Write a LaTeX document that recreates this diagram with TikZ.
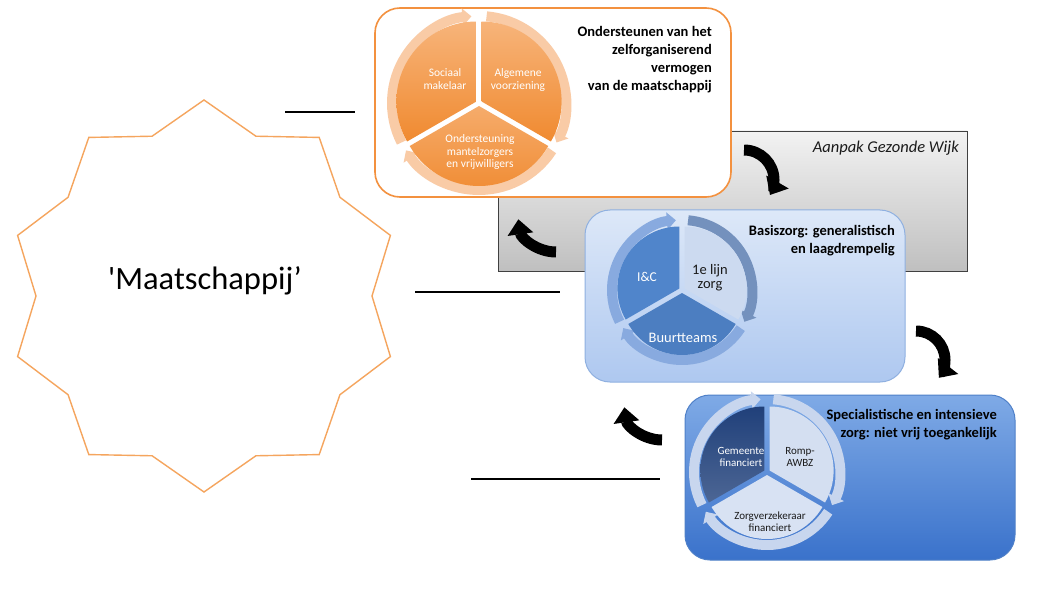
\documentclass[tikz,border=0pt]{standalone}
\usepackage{fontspec}
\setmainfont{Carlito}
\usetikzlibrary{arrows.meta}
\begin{document}
\begin{tikzpicture}[x=1pt,y=-1pt,
  seglabel/.style={align=center,inner sep=0pt,font=\fontsize{11.5}{12.5}\selectfont},
  boxtitle/.style={anchor=north east,align=right,inner sep=0pt,font=\bfseries\fontsize{14.5}{18}\selectfont},
  panel/.style={rounded corners=25pt,line width=1pt},
  ring/.style={line width=10pt,-{Triangle[width=17pt,length=9pt]}},
  turn/.style={line width=11pt,black,-{Triangle[width=25pt,length=15pt]}},
  rule/.style={line width=2.6pt,black}]
\definecolor{starline}{HTML}{F5A55E}\definecolor{orline}{HTML}{F3913F}
\definecolor{ortop}{HTML}{F7B47A}\definecolor{orbot}{HTML}{F08A30}
\definecolor{orring}{HTML}{F9CBA6}
\definecolor{midtop}{HTML}{DDE8F8}\definecolor{midbot}{HTML}{AEC8F0}
\definecolor{midline}{HTML}{8FB0E0}\definecolor{midseg}{HTML}{5085CB}
\definecolor{midpale}{HTML}{CCDAF0}\definecolor{midring}{HTML}{88AADF}
\definecolor{lowtop}{HTML}{7FAAE6}\definecolor{lowbot}{HTML}{3A72CB}
\definecolor{lowline}{HTML}{4F80C8}\definecolor{lowdark}{HTML}{20407A}
\definecolor{lowpale}{HTML}{D4DFF1}\definecolor{lowring}{HTML}{C8D6EE}
\definecolor{ink}{HTML}{1A1A1A}
\useasboundingbox (0,0) rectangle (1061,607);
\fill[white] (0,0) rectangle (1061,607);
% left: the society star
\draw[starline,line width=1.4pt,shift={(204,296)}] (0:168)
  \foreach \a in {18,54,...,342} { -- (\a:196) -- (\a+18:168) } -- cycle;
\node[font=\fontsize{32.5}{36}\selectfont,inner sep=0pt] (maatlabel) at (205,281) {\textquotesingle Maatschappij'};
% separator rules
\coordinate (ra) at (285,112); \coordinate (rb) at (355,112);
\coordinate (rc) at (415,292); \coordinate (rd) at (560,292);
\coordinate (re) at (471,479); \coordinate (rf) at (660,479);
\draw[rule] (ra) -- (rb);
\draw[rule] (rc) -- (rd);
\draw[rule] (re) -- (rf);
% grey frame
\node[draw=black!75,line width=.8pt,top color=black!5,bottom color=black!25,minimum width=469pt,minimum height=140pt,inner sep=0pt] (wijk) at (732.5,201) {};
\node[anchor=base east,inner sep=0pt,font=\itshape\fontsize{16.5}{18}\selectfont,text=ink] (wijklabel) at (959,153) {Aanpak Gezonde Wijk};
% orange panel
\node[panel,draw=orline,line width=1.6pt,fill=white,minimum width=356pt,minimum height=189pt] (zelf) at (553,102.5) {};
\draw[ring,orring] (479,103) ++(-207:87) arc[start angle=-207,end angle=-95,radius=87];
\draw[ring,orring] (479,103) ++(-85:87) arc[start angle=-85,end angle=27,radius=87];
\draw[ring,orring] (479,103) ++(33:87) arc[start angle=33,end angle=147,radius=87];
\path[top color=ortop,bottom color=orbot] (476.4,101.5) -- ++(-90:80) arc[start angle=-90,end angle=-210,radius=80] -- cycle;
\path[top color=ortop,bottom color=orbot] (481.6,101.5) -- ++(30:80) arc[start angle=30,end angle=-90,radius=80] -- cycle;
\path[top color=ortop!80!orbot,bottom color=orbot] (479,106) -- ++(150:80) arc[start angle=150,end angle=30,radius=80] -- cycle;
\node[seglabel,text=white] (sociaal) at (445,79) {Sociaal\\makelaar};
\node[seglabel,text=white] (algemeen) at (518,80) {Algemene\\voorziening};
\node[seglabel,text=white] (mantel) at (480,152) {Ondersteuning\\mantelzorgers\\en vrijwilligers};
\node[boxtitle] (zelflabel) at (712,26) {Ondersteunen van het\\zelforganiserend\\vermogen\\van de maatschappij};
% basic care panel
\node[panel,draw=midline,top color=midtop,bottom color=midbot,minimum width=320pt,minimum height=172pt] (basis) at (745,296) {};
\draw[ring,midring] (682,290) ++(-207:70) arc[start angle=-207,end angle=-95,radius=70];
\draw[ring,midring!85!black] (682,290) ++(-85:70) arc[start angle=-85,end angle=27,radius=70];
\draw[ring,midring] (682,290) ++(33:70) arc[start angle=33,end angle=147,radius=70];
\fill[midseg] (679.4,288.5) -- ++(-90:62) arc[start angle=-90,end angle=-210,radius=62] -- cycle;
\fill[midpale] (684.6,288.5) -- ++(30:62) arc[start angle=30,end angle=-90,radius=62] -- cycle;
\fill[midseg!95!black] (682,293) -- ++(150:62) arc[start angle=150,end angle=30,radius=62] -- cycle;
\node[seglabel,text=white,font=\fontsize{13.5}{15}\selectfont] (ic) at (647,277) {I\&C};
\node[seglabel,text=ink,font=\fontsize{14.5}{14}\selectfont] (eerste) at (710,278) {1e lijn\\zorg};
\node[seglabel,text=white,font=\fontsize{14.5}{15}\selectfont] (buurt) at (683,338) {Buurtteams};
\node[boxtitle] (basislabel) at (895,225) {Basiszorg: generalistisch\\en laagdrempelig};
% specialist panel
\node[panel,draw=lowline,top color=lowtop,bottom color=lowbot,minimum width=330pt,minimum height=165pt] (spec) at (850,477.5) {};
\draw[ring,lowring] (767,472) ++(-207:73) arc[start angle=-207,end angle=-95,radius=73];
\draw[ring,lowring] (767,472) ++(-85:73) arc[start angle=-85,end angle=27,radius=73];
\draw[ring,lowring] (767,472) ++(33:73) arc[start angle=33,end angle=147,radius=73];
\path[top color=lowdark,bottom color=lowdark!80!white] (764.4,470.5) -- ++(-90:64) arc[start angle=-90,end angle=-210,radius=64] -- cycle;
\fill[lowpale] (769.6,470.5) -- ++(30:64) arc[start angle=30,end angle=-90,radius=64] -- cycle;
\fill[lowpale!90!white] (767,475) -- ++(150:64) arc[start angle=150,end angle=30,radius=64] -- cycle;
\node[seglabel,text=white,font=\fontsize{11}{12}\selectfont] (gemeente) at (741,457) {Gemeente\\financiert};
\node[seglabel,text=ink,font=\fontsize{11}{12}\selectfont] (romp) at (800,457) {Romp-\\AWBZ};
\node[seglabel,text=ink,font=\fontsize{11}{12}\selectfont] (verzekeraar) at (770,522) {Zorgverzekeraar\\financiert};
\node[boxtitle] (speclabel) at (997,409) {Specialistische en intensieve\\zorg: niet vrij toegankelijk};
% turning arrows
\draw[turn] (744,150) arc[start angle=-90,end angle=30,radius=30];
\draw[turn] (916,331) arc[start angle=-90,end angle=38,radius=29];
\draw[turn] (556,252) arc[start angle=90,end angle=172,radius=38];
\draw[turn] (662,440) arc[start angle=90,end angle=172,radius=38];
\end{tikzpicture}
\end{document}
